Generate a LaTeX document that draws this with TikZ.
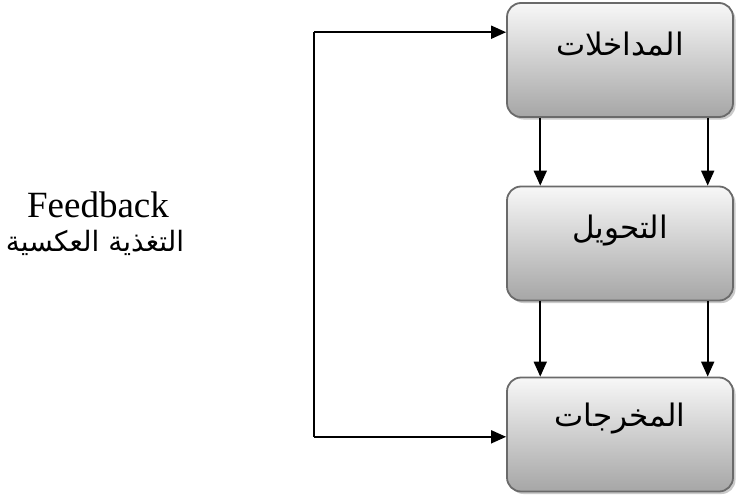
\documentclass[tikz,border=0pt]{standalone}
\usepackage{fontspec}
\setmainfont{Liberation Serif}
\newfontfamily\arabicfont[Script=Arabic]{DejaVu Sans}
\TeXXeTstate=1
\usetikzlibrary{arrows.meta,shadows,calc}
\definecolor{boxedge}{HTML}{6A6A6A}
\definecolor{boxbot}{HTML}{A6A6A6}
\tikzset{
  procbox/.style={draw=boxedge, line width=1.8pt, rounded corners=14pt,
    top color=white!97!black, bottom color=boxbot,
    minimum width=226pt, minimum height=114pt, inner sep=0pt,
    drop shadow={shadow xshift=2.5pt, shadow yshift=-2.5pt, fill=black!35, opacity=0.6}},
  boxtext/.style={font=\arabicfont\fontsize{31}{36}\selectfont, inner sep=0pt},
  arr/.style={line width=1.8pt, -{Triangle[length=15pt,width=13pt]}},
  plain/.style={line width=1.8pt}
}
\begin{document}
\begin{tikzpicture}[x=1pt,y=-1pt]
\useasboundingbox (0,0) rectangle (737,498);
\node[procbox] (b1) at (620,60) {};
\node[procbox] (b2) at (620,243.5) {};
\node[procbox] (b3) at (620,434.5) {};
\node[boxtext] (t1) at (620,44) {\beginR المداخلات\endR};
\node[boxtext] (t2) at (620,231) {\beginR التحويل\endR};
\node[boxtext] (t3) at (620,419) {\beginR المخرجات\endR};
\node[font=\fontsize{37}{40}\selectfont, inner sep=0pt] (fbe) at (98,205) {Feedback};
\node[font=\arabicfont\fontsize{28}{32}\selectfont, inner sep=0pt] (fba) at (95,243) {\beginR التغذية العكسية\endR};
% vertical arrows
\draw[arr] ($(b1.south west)!0.15!(b1.south east)$) -- ($(b2.north west)!0.15!(b2.north east)$);
\draw[arr] ($(b1.south west)!0.885!(b1.south east)$) -- ($(b2.north west)!0.885!(b2.north east)$);
\draw[arr] ($(b2.south west)!0.15!(b2.south east)$) -- ($(b3.north west)!0.15!(b3.north east)$);
\draw[arr] ($(b2.south west)!0.885!(b2.south east)$) -- ($(b3.north west)!0.885!(b3.north east)$);
% feedback loop
\coordinate (fbin) at ($(b1.north west)!0.26!(b1.south west)$);
\coordinate (fbout) at ($(b3.north west)!0.52!(b3.south west)$);
\coordinate (fbcorner) at (314,0);
\draw[plain] (fbout -| fbcorner) -- (fbin -| fbcorner);
\draw[arr] (fbin -| fbcorner) -- (fbin);
\draw[arr] (fbout -| fbcorner) -- (fbout);
\end{tikzpicture}
\end{document}
